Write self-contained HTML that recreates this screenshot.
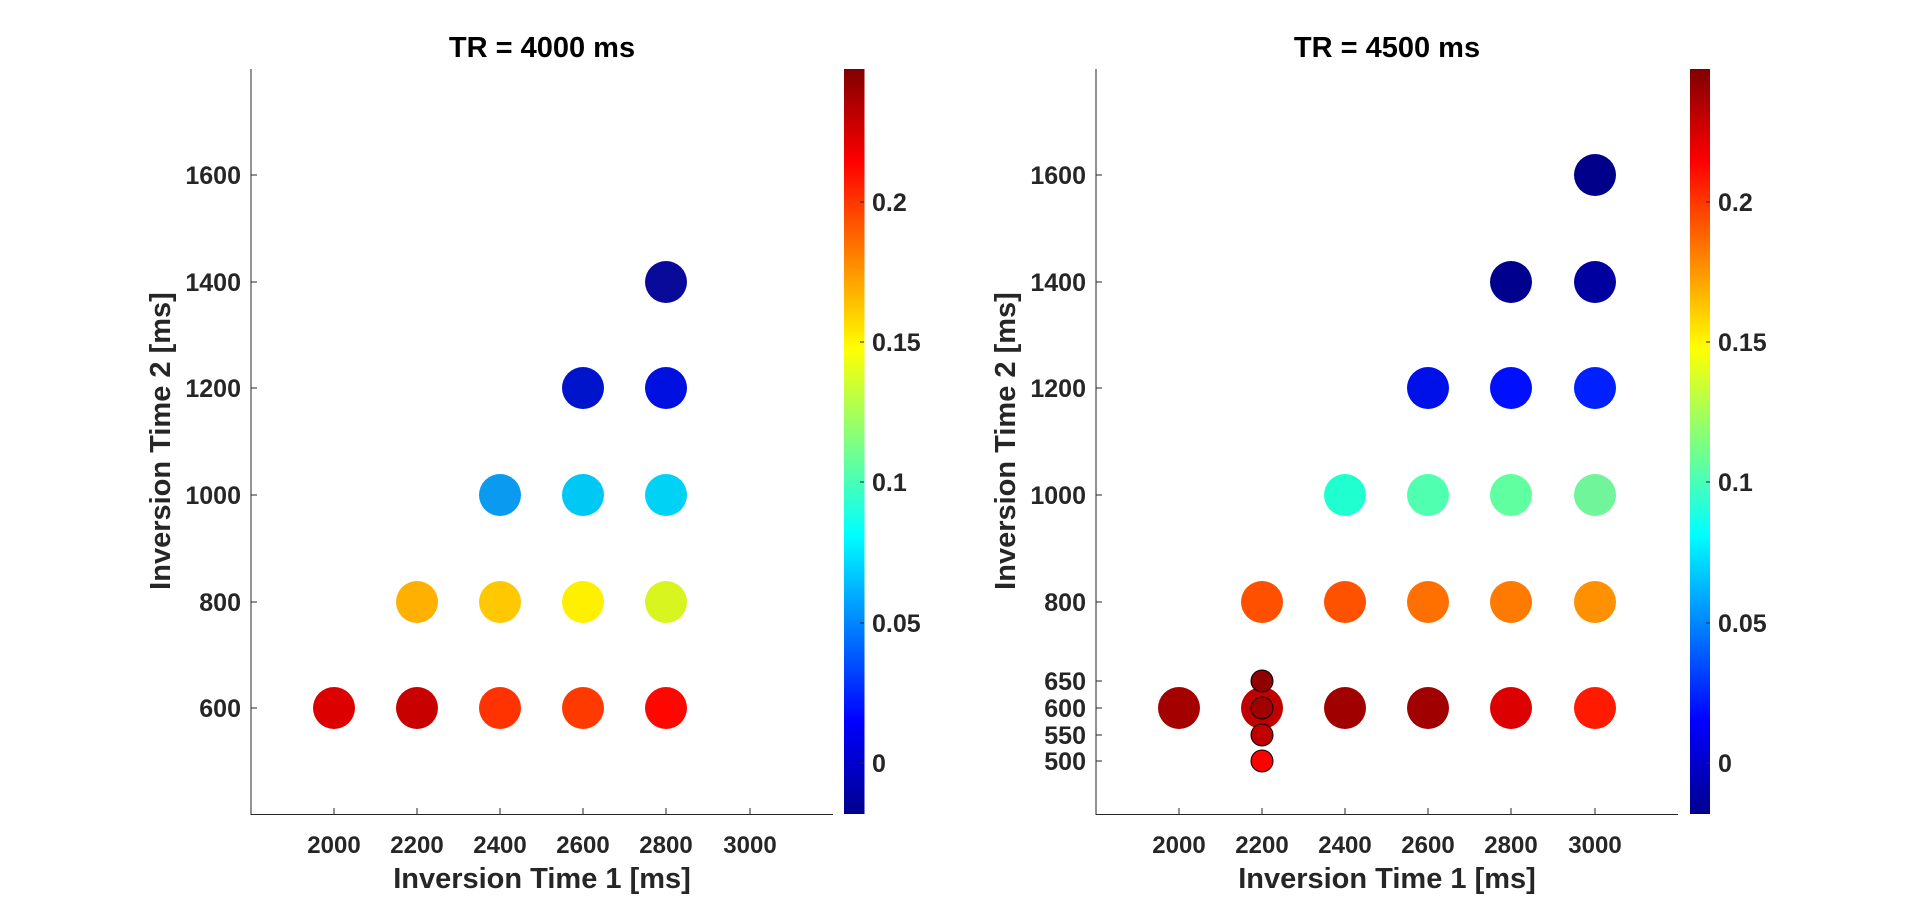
<!DOCTYPE html>
<html><head><meta charset="utf-8"><style>
html,body{margin:0;padding:0;background:#fff}
svg{display:block}
text{font-family:"Liberation Sans",sans-serif;font-weight:bold;fill:#262626}
</style></head><body>
<svg width="1920" height="916" viewBox="0 0 1920 916" xmlns="http://www.w3.org/2000/svg">
<defs>
<linearGradient id="jet" x1="0" y1="1" x2="0" y2="0">
<stop offset="0" stop-color="#00008F"/>
<stop offset="0.125" stop-color="#0000FF"/>
<stop offset="0.375" stop-color="#00FFFF"/>
<stop offset="0.625" stop-color="#FFFF00"/>
<stop offset="0.875" stop-color="#FF0000"/>
<stop offset="1" stop-color="#800000"/>
</linearGradient>
</defs>

<!-- LEFT PLOT -->
<text x="542" y="57" font-size="29" text-anchor="middle" style="fill:#000">TR = 4000 ms</text>
<g stroke="#262626" stroke-width="1" fill="none">
<line x1="251" y1="69" x2="251" y2="814.5"/>
<line x1="250.5" y1="814.5" x2="833" y2="814.5"/>
<line x1="334" y1="814" x2="334" y2="808"/><line x1="417" y1="814" x2="417" y2="808"/>
<line x1="500" y1="814" x2="500" y2="808"/><line x1="583" y1="814" x2="583" y2="808"/>
<line x1="666" y1="814" x2="666" y2="808"/><line x1="750" y1="814" x2="750" y2="808"/>
<line x1="251" y1="708" x2="257" y2="708"/><line x1="251" y1="602" x2="257" y2="602"/>
<line x1="251" y1="495" x2="257" y2="495"/><line x1="251" y1="388" x2="257" y2="388"/>
<line x1="251" y1="282" x2="257" y2="282"/><line x1="251" y1="175" x2="257" y2="175"/>
</g>
<g font-size="24" text-anchor="middle">
<text x="334" y="853">2000</text><text x="417" y="853">2200</text><text x="500" y="853">2400</text>
<text x="583" y="853">2600</text><text x="666" y="853">2800</text><text x="750" y="853">3000</text>
</g>
<g font-size="25" text-anchor="end">
<text x="241" y="717">600</text><text x="241" y="611">800</text><text x="241" y="504">1000</text>
<text x="241" y="397">1200</text><text x="241" y="291">1400</text><text x="241" y="184">1600</text>
</g>
<text x="542" y="888" font-size="29" text-anchor="middle">Inversion Time 1 [ms]</text>
<text transform="translate(170,441) rotate(-90)" font-size="29" text-anchor="middle">Inversion Time 2 [ms]</text>

<g>
<circle cx="666" cy="282" r="21" fill="#0a0a9a"/>
<circle cx="583" cy="388" r="21" fill="#0014cc"/>
<circle cx="666" cy="388" r="21" fill="#0010e0"/>
<circle cx="500" cy="495" r="21" fill="#0a9af0"/>
<circle cx="583" cy="495" r="21" fill="#00c8f5"/>
<circle cx="666" cy="495" r="21" fill="#00d2f5"/>
<circle cx="417" cy="602" r="21" fill="#ffb000"/>
<circle cx="500" cy="602" r="21" fill="#ffc800"/>
<circle cx="583" cy="602" r="21" fill="#fff000"/>
<circle cx="666" cy="602" r="21" fill="#d8f520"/>
<circle cx="334" cy="708" r="21" fill="#dd0000"/>
<circle cx="417" cy="708" r="21" fill="#c80000"/>
<circle cx="500" cy="708" r="21" fill="#ff3300"/>
<circle cx="583" cy="708" r="21" fill="#ff3a00"/>
<circle cx="666" cy="708" r="21" fill="#ff0600"/>
</g>

<rect x="844" y="69" width="20.5" height="745" fill="url(#jet)"/>
<g stroke="#262626" stroke-width="1">
<line x1="860" y1="202" x2="864" y2="202"/><line x1="860" y1="342" x2="864" y2="342"/>
<line x1="860" y1="482" x2="864" y2="482"/><line x1="860" y1="623" x2="864" y2="623"/>
<line x1="860" y1="763" x2="864" y2="763"/>
</g>
<g font-size="25">
<text x="872" y="211">0.2</text><text x="872" y="351">0.15</text><text x="872" y="491">0.1</text>
<text x="872" y="632">0.05</text><text x="872" y="772">0</text>
</g>

<!-- RIGHT PLOT -->
<text x="1387" y="57" font-size="29" text-anchor="middle" style="fill:#000">TR = 4500 ms</text>
<g stroke="#262626" stroke-width="1" fill="none">
<line x1="1096" y1="69" x2="1096" y2="814.5"/>
<line x1="1095.5" y1="814.5" x2="1678" y2="814.5"/>
<line x1="1179" y1="814" x2="1179" y2="808"/><line x1="1262" y1="814" x2="1262" y2="808"/>
<line x1="1345" y1="814" x2="1345" y2="808"/><line x1="1428" y1="814" x2="1428" y2="808"/>
<line x1="1511" y1="814" x2="1511" y2="808"/><line x1="1595" y1="814" x2="1595" y2="808"/>
<line x1="1096" y1="761" x2="1102" y2="761"/><line x1="1096" y1="735" x2="1102" y2="735"/>
<line x1="1096" y1="708" x2="1102" y2="708"/><line x1="1096" y1="681" x2="1102" y2="681"/>
<line x1="1096" y1="602" x2="1102" y2="602"/><line x1="1096" y1="495" x2="1102" y2="495"/>
<line x1="1096" y1="388" x2="1102" y2="388"/><line x1="1096" y1="282" x2="1102" y2="282"/>
<line x1="1096" y1="175" x2="1102" y2="175"/>
</g>
<g font-size="24" text-anchor="middle">
<text x="1179" y="853">2000</text><text x="1262" y="853">2200</text><text x="1345" y="853">2400</text>
<text x="1428" y="853">2600</text><text x="1511" y="853">2800</text><text x="1595" y="853">3000</text>
</g>
<g font-size="25" text-anchor="end">
<text x="1086" y="770">500</text><text x="1086" y="744">550</text><text x="1086" y="717">600</text>
<text x="1086" y="690">650</text><text x="1086" y="611">800</text><text x="1086" y="504">1000</text>
<text x="1086" y="397">1200</text><text x="1086" y="291">1400</text><text x="1086" y="184">1600</text>
</g>
<text x="1387" y="888" font-size="29" text-anchor="middle">Inversion Time 1 [ms]</text>
<text transform="translate(1015,441) rotate(-90)" font-size="29" text-anchor="middle">Inversion Time 2 [ms]</text>

<g>
<circle cx="1595" cy="175" r="21" fill="#00008a"/>
<circle cx="1511" cy="282" r="21" fill="#00008f"/>
<circle cx="1595" cy="282" r="21" fill="#0000a0"/>
<circle cx="1428" cy="388" r="21" fill="#0010e8"/>
<circle cx="1511" cy="388" r="21" fill="#0010ff"/>
<circle cx="1595" cy="388" r="21" fill="#0020ff"/>
<circle cx="1345" cy="495" r="21" fill="#20ffd0"/>
<circle cx="1428" cy="495" r="21" fill="#50ffb0"/>
<circle cx="1511" cy="495" r="21" fill="#60ffa0"/>
<circle cx="1595" cy="495" r="21" fill="#70f59a"/>
<circle cx="1262" cy="602" r="21" fill="#ff5000"/>
<circle cx="1345" cy="602" r="21" fill="#ff5200"/>
<circle cx="1428" cy="602" r="21" fill="#ff7000"/>
<circle cx="1511" cy="602" r="21" fill="#ff7a00"/>
<circle cx="1595" cy="602" r="21" fill="#ff9000"/>
<circle cx="1179" cy="708" r="21" fill="#a50000"/>
<circle cx="1262" cy="708" r="21" fill="#c00000"/>
<circle cx="1345" cy="708" r="21" fill="#a00000"/>
<circle cx="1428" cy="708" r="21" fill="#a00000"/>
<circle cx="1511" cy="708" r="21" fill="#dd0000"/>
<circle cx="1595" cy="708" r="21" fill="#ff1a00"/>
<g stroke="#000" stroke-width="1">
<circle cx="1262" cy="681" r="11" fill="#900000"/>
<circle cx="1262" cy="708" r="11" fill="#a00000"/>
<circle cx="1262" cy="735" r="11" fill="#c00000"/>
<circle cx="1262" cy="761" r="11" fill="#ff0000"/>
</g>
</g>

<rect x="1690" y="69" width="20" height="745" fill="url(#jet)"/>
<g stroke="#262626" stroke-width="1">
<line x1="1706" y1="202" x2="1710" y2="202"/><line x1="1706" y1="342" x2="1710" y2="342"/>
<line x1="1706" y1="482" x2="1710" y2="482"/><line x1="1706" y1="623" x2="1710" y2="623"/>
<line x1="1706" y1="763" x2="1710" y2="763"/>
</g>
<g font-size="25">
<text x="1718" y="211">0.2</text><text x="1718" y="351">0.15</text><text x="1718" y="491">0.1</text>
<text x="1718" y="632">0.05</text><text x="1718" y="772">0</text>
</g>
</svg>
</body></html>
